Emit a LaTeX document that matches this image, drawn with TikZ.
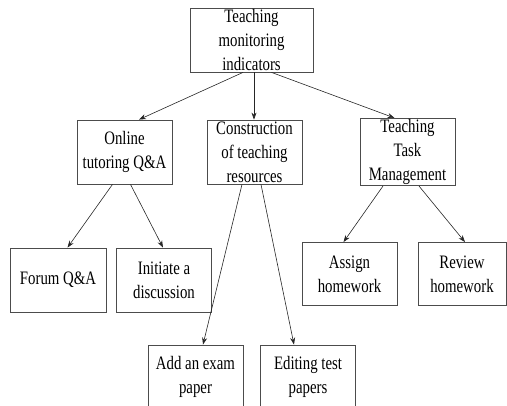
\documentclass[tikz,border=0pt]{standalone}
\usepackage{fontspec}
\setmainfont{Liberation Serif}[FakeStretch=0.78]
\usetikzlibrary{arrows.meta}
\begin{document}
\begin{tikzpicture}[x=1pt, y=-1pt, every node/.style = {shape=rectangle, draw=black!70, align=center, inner sep=1pt, font=\fontsize{19}{24}\selectfont}, line width=0.8pt]
	\tikzstyle{box} = [minimum width=95pt, minimum height=64pt]
	\tikzstyle{link} = [draw=black!85, line width=0.6pt, -{Stealth[length=7pt, width=5pt]}]
	\useasboundingbox (0,0) rectangle (507,406);
	\clip (0,0) rectangle (507,406);
	% top level
	\node[box, minimum width=123pt] (root) at (251.5,40) {Teaching\\monitoring\\indicators};
	% second level
	\node[box] (online) at (124.5,152) {Online\\tutoring Q\&A};
	\node[box] (constr) at (254.5,152) {Construction\\of teaching\\resources};
	\node[box] (task) at (407.5,152) {Teaching\\Task\\Management};
	% third level
	\node[box, minimum width=96pt] (forum) at (58,280) {Forum Q\&A};
	\node[box] (discuss) at (164,280) {Initiate a\\discussion};
	\node[box, minimum height=63pt] (assign) at (349.5,274) {Assign\\homework};
	\node[box, minimum width=88pt, minimum height=63pt] (review) at (462,274) {Review\\homework};
	\node[box] (exam) at (195.5,377) {Add an exam\\paper};
	\node[box] (edit) at (308,377) {Editing test\\papers};
	% arrows
	\draw[link] ([xshift=-8.5pt]root.south) -- ([xshift=14.5pt]online.north);
	\draw[link] ([xshift=2.5pt]root.south) -- ([xshift=-0.5pt]constr.north);
	\draw[link] ([xshift=20pt]root.south) -- ([xshift=-13pt]task.north);
	\draw[link] ([xshift=-12pt]online.south) -- ([xshift=9.5pt]forum.north);
	\draw[link] ([xshift=6pt]online.south) -- ([xshift=-1pt]discuss.north);
	\draw[link] ([xshift=-12.5pt]constr.south) -- ([xshift=7.5pt]exam.north);
	\draw[link] ([xshift=6.5pt]constr.south) -- ([xshift=-14pt]edit.north);
	\draw[link] ([xshift=-24.5pt]task.south) -- ([xshift=-6pt]assign.north);
	\draw[link] ([xshift=11.5pt]task.south) -- ([xshift=3pt]review.north);
\end{tikzpicture}
\end{document}
